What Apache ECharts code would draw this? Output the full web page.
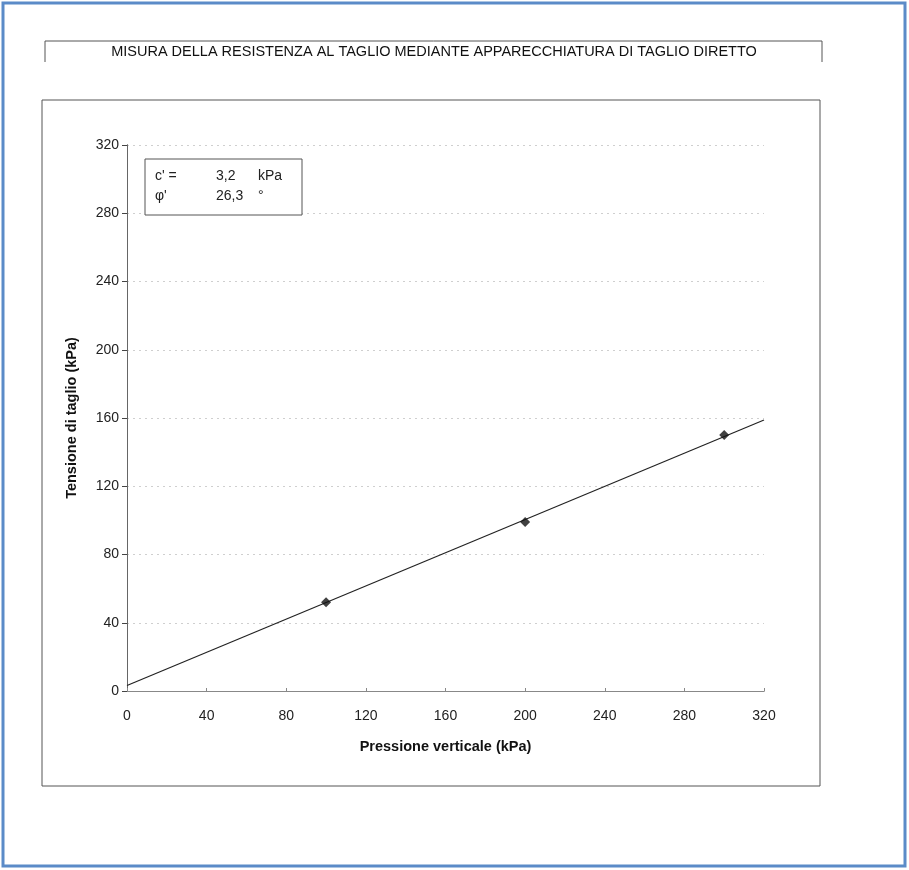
<!DOCTYPE html>
<html>
<head>
<meta charset="utf-8">
<title>Taglio diretto</title>
<script src="https://cdn.jsdelivr.net/npm/echarts@6/dist/echarts.min.js"></script>
<style>
html,body{margin:0;padding:0;background:#fff;}
#showView{width:909px;height:870px;}
</style>
</head>
<body>
<div id="showView"></div>
<script>
// dati
var xTicks = [0, 40, 80, 120, 160, 200, 240, 280, 320];
var yTicks = [0, 40, 80, 120, 160, 200, 240, 280, 320];
var pressione = [100, 200, 300];
var tensione = [52, 99, 150];
var rettaX = [0, 320];
var rettaY = [3.2, 158.8];
var paramNomi = ["c' =", "\u03c6'"];
var paramValori = ["3,2", "26,3"];
var paramUnita = ["kPa", "\u00b0"];

var titolo = 'MISURA DELLA RESISTENZA AL TAGLIO MEDIANTE APPARECCHIATURA DI TAGLIO DIRETTO';
var font = 'Liberation Sans, Arial, sans-serif';

function showMessage(){
	var myChart = echarts.init(document.getElementById('showView'));
	var punti = [];
	for(var i = 0 ; i < pressione.length ; i++){
		punti.push([pressione[i], tensione[i]]);
	}
	var retta = [];
	for(var i = 0 ; i < rettaX.length ; i++){
		retta.push([rettaX[i], rettaY[i]]);
	}
	var graphics = [
		{type:'rect', shape:{x:3, y:3, width:902, height:863}, style:{fill:'none', stroke:'#5b8bc8', lineWidth:3}},
		{type:'polyline', shape:{points:[[45,62],[45,41],[822,41],[822,62]]}, style:{fill:'none', stroke:'#555', lineWidth:1}},
		{type:'text', x:434, y:52, style:{text:titolo, font:'14.5px ' + font, fill:'#111', align:'center', verticalAlign:'middle'}},
		{type:'rect', shape:{x:42, y:100, width:778, height:686}, style:{fill:'none', stroke:'#555', lineWidth:1}},
		{type:'rect', z:10, shape:{x:145, y:159, width:157, height:56}, style:{fill:'#fff', stroke:'#555', lineWidth:1}}
	];
	for(var i = 0 ; i < paramNomi.length ; i++){
		var yy = 176 + i*20;
		graphics.push({type:'text', z:11, x:155, y:yy, style:{text:paramNomi[i], font:'14px ' + font, fill:'#222', verticalAlign:'middle'}});
		graphics.push({type:'text', z:11, x:216, y:yy, style:{text:paramValori[i], font:'14px ' + font, fill:'#222', verticalAlign:'middle'}});
		graphics.push({type:'text', z:11, x:258, y:yy, style:{text:paramUnita[i], font:'14px ' + font, fill:'#222', verticalAlign:'middle'}});
	}
	var option = {
		backgroundColor: '#fff',
		animation: false,
		textStyle: {fontFamily: font},
		grid: {left:127, right:145, top:145, bottom:179, show:false},
		xAxis: [
			{
				type: 'value', min: xTicks[0], max: xTicks[xTicks.length-1], interval: 40,
				name: 'Pressione verticale (kPa)', nameLocation: 'middle', nameGap: 48,
				nameTextStyle: {fontWeight:'bold', fontSize:14.5, color:'#111'},
				axisLine: {lineStyle:{color:'#999', type:'dotted', width:1}},
				axisTick: {show:true, inside:true, length:3, lineStyle:{color:'#888'}},
				axisLabel: {color:'#222', fontSize:14, margin:18},
				splitLine: {show:false}
			},
			{
				type: 'value', position: 'top', min: 0, max: 320,
				axisLine: {show:true, lineStyle:{color:'#888', width:1}},
				axisTick: {show:false}, axisLabel: {show:false}, splitLine: {show:false}
			}
		],
		yAxis: [
			{
				type: 'value', min: yTicks[0], max: yTicks[yTicks.length-1], interval: 40,
				name: 'Tensione di taglio (kPa)', nameLocation: 'middle', nameGap: 48,
				nameTextStyle: {fontWeight:'bold', fontSize:14.5, color:'#111'},
				axisLine: {show:true, lineStyle:{color:'#444', width:1}},
				axisTick: {show:true, length:5, lineStyle:{color:'#444'}},
				axisLabel: {color:'#222', fontSize:14, margin:8},
				splitLine: {show:true, lineStyle:{color:'#cfcfcf', type:[2,4], width:1}}
			},
			{
				type: 'value', position: 'right', min: 0, max: 320,
				axisLine: {show:true, lineStyle:{color:'#666', width:1}},
				axisTick: {show:false}, axisLabel: {show:false}, splitLine: {show:false}
			}
		],
		series: [
			{
				type: 'line', data: retta, showSymbol: false, symbol: 'none',
				lineStyle: {color:'#222', width:1.2}, z: 3
			},
			{
				type: 'scatter', data: punti, symbol: 'diamond', symbolSize: 10,
				itemStyle: {color:'#111'}, z: 4
			}
		],
		graphic: graphics
	};
	myChart.setOption(option);
}
showMessage();
</script>
</body>
</html>
